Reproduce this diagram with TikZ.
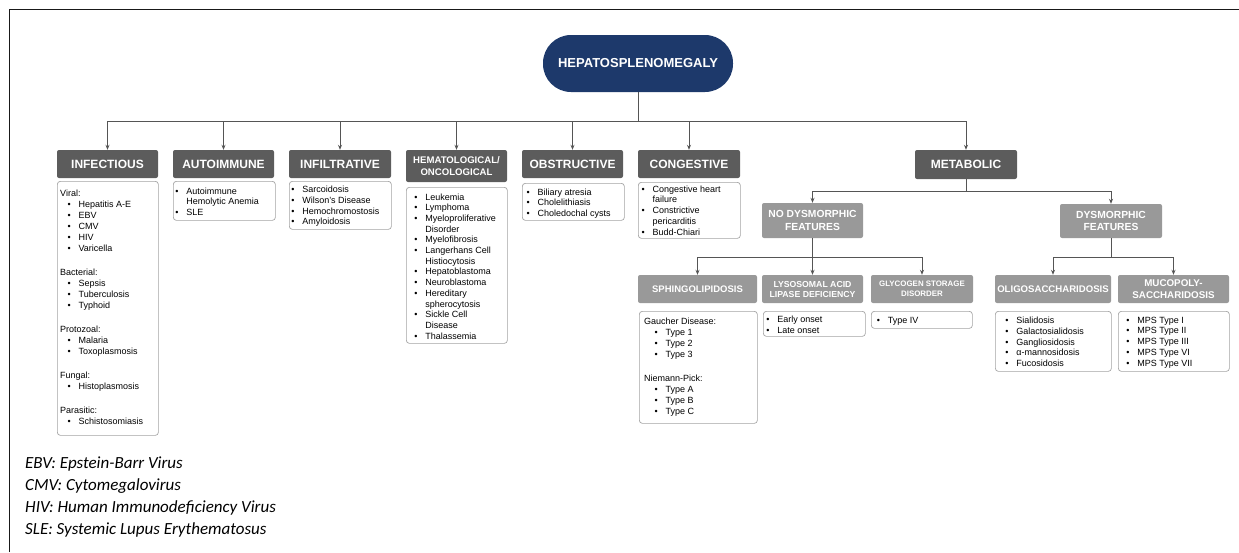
\documentclass[tikz,border=0pt]{standalone}
\usepackage{fontspec}
\setmainfont{Liberation Sans}
\newfontfamily\legendfont{Carlito}
\usetikzlibrary{arrows.meta}
\definecolor{navy}{HTML}{1D396B}
\definecolor{hdrdark}{HTML}{5C5C5C}
\definecolor{hdrlight}{HTML}{999999}
\definecolor{boxline}{HTML}{A3A3A3}
\definecolor{conncol}{HTML}{555555}
\newlength\bgap \setlength\bgap{11pt}
\newlength\bind \setlength\bind{7.4pt}
\newcommand\bu[1]{\makebox[\bgap][l]{\textbullet}#1}
\newcommand\cont[1]{\hspace*{\bgap}#1}
\newcommand\ibu[1]{\hspace*{\bind}\bu{#1}}
\tikzset{
  wh/.style 2 args={minimum width=#1pt, minimum height=#2pt},
  root/.style={fill=navy, text=white, font=\bfseries\fontsize{13}{15}\selectfont,
    rounded corners=28pt, minimum width=190pt, minimum height=57pt, inner sep=0pt},
  hdr/.style={fill=hdrdark, text=white, rounded corners=2pt, inner sep=0pt,
    align=center, font=\bfseries\fontsize{12}{14}\selectfont},
  hdrl/.style={hdr, fill=hdrlight},
  bodybox/.style={draw=boxline, rounded corners=3pt, line width=0.7pt, inner sep=0pt, anchor=north west},
  bodytext/.style={inner sep=0pt, anchor=north west, align=left, font=\fontsize{9}{10.7}\selectfont},
  conn/.style={draw=conncol, line width=0.8pt},
  arr/.style={conn, -{Stealth[length=5pt,width=4pt]}},
  legend/.style={inner sep=0pt, anchor=north west, align=left,
    font=\legendfont\itshape\fontsize{17}{22}\selectfont}
}
\begin{document}
\begin{tikzpicture}[x=1pt,y=-1pt]
\useasboundingbox (0,0) rectangle (1239,552);
% frame
\draw[line width=1.3pt, black!90] (9.5,552) -- (9.5,9.5) -- (1239,9.5);

% root
\node[root] (root) at (638,63.5) {HEPATOSPLENOMEGALY};

% top level headers
\node[hdr, wh={101}{28}] (inf) at (107.5,164) {INFECTIOUS};
\node[hdr, wh={101}{28}] (aut) at (223.5,164) {AUTOIMMUNE};
\node[hdr, wh={102}{28}] (fil) at (340,164) {INFILTRATIVE};
\node[hdr, wh={101}{32}, font=\bfseries\fontsize{9.6}{12}\selectfont] (hem) at (456.5,166) {HEMATOLOGICAL/\\ONCOLOGICAL};
\node[hdr, wh={101}{28}] (obs) at (572.5,164) {OBSTRUCTIVE};
\node[hdr, wh={102}{28}] (con) at (689,164) {CONGESTIVE};
\node[hdr, wh={102}{29}] (met) at (966,164.5) {METABOLIC};

\coordinate (bus) at (638,121);
\draw[conn] (root.south) -- (bus);
\foreach \n in {inf,aut,fil,hem,obs,con,met} \draw[arr] (bus) -| (\n.north);

% metabolic sub levels
\node[hdrl, wh={101}{35}, font=\bfseries\fontsize{10.3}{12.8}\selectfont] (ndf) at (812.5,220.5) {NO DYSMORPHIC\\FEATURES};
\node[hdrl, wh={102}{34}, font=\bfseries\fontsize{10.3}{12.8}\selectfont] (df) at (1111,221) {DYSMORPHIC\\FEATURES};
\coordinate (mbus) at (966,191);
\draw[conn] (met.south) -- (mbus);
\draw[arr] (mbus) -| (ndf.north);
\draw[arr] (mbus) -| (df.north);

\node[hdrl, wh={119}{28}, font=\bfseries\fontsize{9.5}{11}\selectfont] (sph) at (697.5,289) {SPHINGOLIPIDOSIS};
\node[hdrl, wh={101}{28}, font=\bfseries\fontsize{8.7}{10}\selectfont] (lal) at (812.5,289) {LYSOSOMAL ACID\\LIPASE DEFICIENCY};
\node[hdrl, wh={102}{28}, font=\bfseries\fontsize{7.9}{10}\selectfont] (gsd) at (922,289) {GLYCOGEN STORAGE\\DISORDER};
\node[hdrl, wh={116}{28}, font=\bfseries\fontsize{9.6}{11}\selectfont] (oli) at (1053,289) {OLIGOSACCHARIDOSIS};
\node[hdrl, wh={111}{28}, font=\bfseries\fontsize{9.8}{12.3}\selectfont] (muc) at (1173.5,289) {MUCOPOLY-\\SACCHARIDOSIS};

\coordinate (nbus) at (812.5,257);
\draw[conn] (ndf.south) -- (nbus);
\foreach \n in {sph,lal,gsd} \draw[arr] (nbus) -| (\n.north);
\coordinate (dbus) at (1111,257);
\draw[conn] (df.south) -- (dbus);
\foreach \n in {oli,muc} \draw[arr] (dbus) -| (\n.north);

% body boxes
\node[bodybox, wh={101}{254}] (infB) at (57,181) {};
\node[bodybox, wh={102}{39}] (autB) at (173,181) {};
\node[bodybox, wh={102}{48}] (filB) at (289,181) {};
\node[bodybox, wh={101}{156}] (hemB) at (406,187) {};
\node[bodybox, wh={102}{37}] (obsB) at (522,183) {};
\node[bodybox, wh={102}{56}] (conB) at (638,182) {};
\node[bodybox, wh={118}{112}] (sphB) at (639,311) {};
\node[bodybox, wh={102}{25}] (lalB) at (763,311) {};
\node[bodybox, wh={101}{17}] (gsdB) at (871,311) {};
\node[bodybox, wh={116}{60}] (oliB) at (995,311) {};
\node[bodybox, wh={111}{60}] (mpsB) at (1118,311) {};

% body texts
\node[bodytext, font=\fontsize{9}{11}\selectfont] (infT) at ([shift={(3,9)}]infB.north west)
 {Viral:\\ \ibu{Hepatitis A-E}\\ \ibu{EBV}\\ \ibu{CMV}\\ \ibu{HIV}\\ \ibu{Varicella}\\[13pt]
  Bacterial:\\ \ibu{Sepsis}\\ \ibu{Tuberculosis}\\ \ibu{Typhoid}\\[13pt]
  Protozoal:\\ \ibu{Malaria}\\ \ibu{Toxoplasmosis}\\[13pt]
  Fungal:\\ \ibu{Histoplasmosis}\\[13pt]
  Parasitic:\\ \ibu{Schistosomiasis}};
\node[bodytext, font=\fontsize{9}{10.4}\selectfont] (autT) at ([shift={(2.1,6.5)}]autB.north west)
 {\bu{Autoimmune}\\ \cont{Hemolytic Anemia}\\ \bu{SLE}};
\node[bodytext] (filT) at ([shift={(2.1,5)}]filB.north west)
 {\bu{Sarcoidosis}\\ \bu{Wilson's Disease}\\ \bu{Hemochromostosis}\\ \bu{Amyloidosis}};
\node[bodytext] (hemT) at ([shift={(8.1,6.3)}]hemB.north west)
 {\bu{Leukemia}\\ \bu{Lymphoma}\\ \bu{Myeloproliferative}\\ \cont{Disorder}\\ \bu{Myelofibrosis}\\
  \bu{Langerhans Cell}\\ \cont{Histiocytosis}\\ \bu{Hepatoblastoma}\\ \bu{Neuroblastoma}\\
  \bu{Hereditary}\\ \cont{spherocytosis}\\ \bu{Sickle Cell}\\ \cont{Disease}\\ \bu{Thalassemia}};
\node[bodytext] (obsT) at ([shift={(4.4,5.3)}]obsB.north west)
 {\bu{Biliary atresia}\\ \bu{Cholelithiasis}\\ \bu{Choledochal cysts}};
\node[bodytext] (conT) at ([shift={(3.4,3.5)}]conB.north west)
 {\bu{Congestive heart}\\ \cont{failure}\\ \bu{Constrictive}\\ \cont{pericarditis}\\ \bu{Budd-Chiari}};
\node[bodytext, font=\fontsize{9}{11}\selectfont\setlength\bind{10.4pt}] (sphT) at ([shift={(5,6.3)}]sphB.north west)
 {Gaucher Disease:\\ \ibu{Type 1}\\ \ibu{Type 2}\\ \ibu{Type 3}\\[13pt]
  Niemann-Pick:\\ \ibu{Type A}\\ \ibu{Type B}\\ \ibu{Type C}};
\node[bodytext] (lalT) at ([shift={(3.1,5)}]lalB.north west)
 {\bu{Early onset}\\ \bu{Late onset}};
\node[bodytext] (gsdT) at ([shift={(5.7,5.7)}]gsdB.north west)
 {\bu{Type IV}};
\node[bodytext, font=\fontsize{9}{10.8}\selectfont] (oliT) at ([shift={(10.1,5.7)}]oliB.north west)
 {\bu{Sialidosis}\\ \bu{Galactosialidosis}\\ \bu{Gangliosidosis}\\ \bu{α-mannosidosis}\\ \bu{Fucosidosis}};
\node[bodytext, font=\fontsize{9}{10.8}\selectfont] (mpsT) at ([shift={(8.1,5.7)}]mpsB.north west)
 {\bu{MPS Type I}\\ \bu{MPS Type II}\\ \bu{MPS Type III}\\ \bu{MPS Type VI}\\ \bu{MPS Type VII}};

% legend
\node[legend] (leg) at (25,457)
 {EBV: Epstein-Barr Virus\\ CMV: Cytomegalovirus\\ HIV: Human Immunodeficiency Virus\\ SLE: Systemic Lupus Erythematosus};
\end{tikzpicture}
\end{document}
